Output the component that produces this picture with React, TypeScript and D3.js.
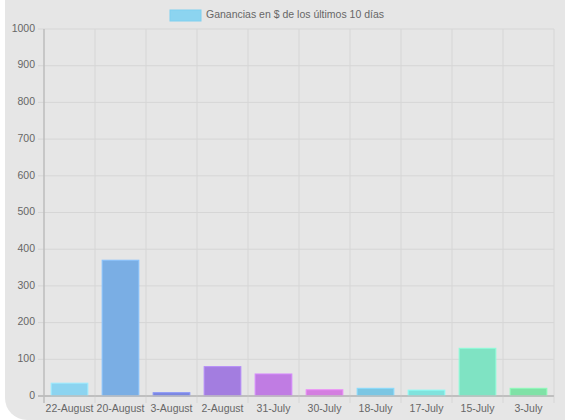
import React from "react";
import * as d3 from "d3";

const days = ["22-August", "20-August", "3-August", "2-August", "31-July", "30-July", "18-July", "17-July", "15-July", "3-July"];
const earnings = [35, 370, 9, 80, 60, 17, 21, 16, 130, 21];
const barColors = ["#8cd4f0", "#7aaee4", "#7a86e0", "#a37de0", "#c07ce3", "#d47ee0", "#7bc6e3", "#7fe3dd", "#7fe3c3", "#7fe2a6"];
const yTicks = [0, 100, 200, 300, 400, 500, 600, 700, 800, 900, 1000];
const legendLabel = "Ganancias en $ de los últimos 10 días";

const W = 565;
const H = 420;
const margin = { top: 29, right: 11, bottom: 24, left: 44 };

export default function App() {
  const x = d3
    .scaleBand<string>()
    .domain(days)
    .range([margin.left, W - margin.right])
    .paddingInner(0)
    .paddingOuter(0);
  const y = d3.scaleLinear().domain([0, 1000]).range([H - margin.bottom, margin.top]);
  const bw = x.bandwidth() * 0.72;
  const font = "Liberation Sans, Arial, sans-serif";
  const y0 = y(0);
  const r = 22;

  // card background: only the bottom-left corner is rounded inside the window
  const card = `M5,0 H${W} V${H} H${5 + r} A${r},${r} 0 0 1 5,${H - r} Z`;

  return (
    <svg width={W} height={H} style={{ position: "absolute", left: 0, top: 0 }} fontFamily={font}>
      <rect x={0} y={0} width={W} height={H} fill="#ffffff" />
      <path d={card} fill="#e6e6e6" />

      {/* legend */}
      <rect x={170} y={10} width={31} height={11} fill="#8cd4f0" stroke="#7fd0f0" />
      <text x={206} y={15.5} fontSize={10.5} fill="#666" dominantBaseline="middle">
        {legendLabel}
      </text>

      {/* horizontal grid + y ticks */}
      {yTicks.map((t) => (
        <g key={t}>
          <line
            x1={margin.left - 6}
            x2={W - margin.right}
            y1={y(t)}
            y2={y(t)}
            stroke={t === 0 ? "#bdbdbd" : "#d6d6d6"}
            strokeWidth={t === 0 ? 1.5 : 1}
          />
          <text x={margin.left - 9} y={y(t)} textAnchor="end" dominantBaseline="middle" fontSize={10.5} fill="#666">
            {t}
          </text>
        </g>
      ))}

      {/* vertical grid */}
      {days.map((d, i) => (
        <line
          key={d}
          x1={x(d)!}
          x2={x(d)!}
          y1={margin.top}
          y2={y0 + 7}
          stroke={i === 0 ? "#bdbdbd" : "#d6d6d6"}
          strokeWidth={i === 0 ? 1.5 : 1}
        />
      ))}
      <line x1={W - margin.right} x2={W - margin.right} y1={margin.top} y2={y0 + 7} stroke="#d6d6d6" />

      {/* bars */}
      {days.map((d, i) => {
        const cx = x(d)! + x.bandwidth() / 2;
        return (
          <rect
            key={d}
            x={cx - bw / 2}
            y={y(earnings[i])}
            width={bw}
            height={y0 - y(earnings[i])}
            fill={barColors[i]}
            stroke={d3.color(barColors[i])!.brighter(0.3).toString()}
            strokeWidth={1}
          />
        );
      })}
      <line x1={margin.left - 6} x2={W - margin.right} y1={y0} y2={y0} stroke="#bdbdbd" strokeWidth={1.5} />

      {/* x labels */}
      {days.map((d) => (
        <text
          key={d}
          x={x(d)! + x.bandwidth() / 2}
          y={y0 + 13}
          textAnchor="middle"
          dominantBaseline="middle"
          fontSize={10.5}
          fill="#666"
        >
          {d}
        </text>
      ))}
    </svg>
  );
}
